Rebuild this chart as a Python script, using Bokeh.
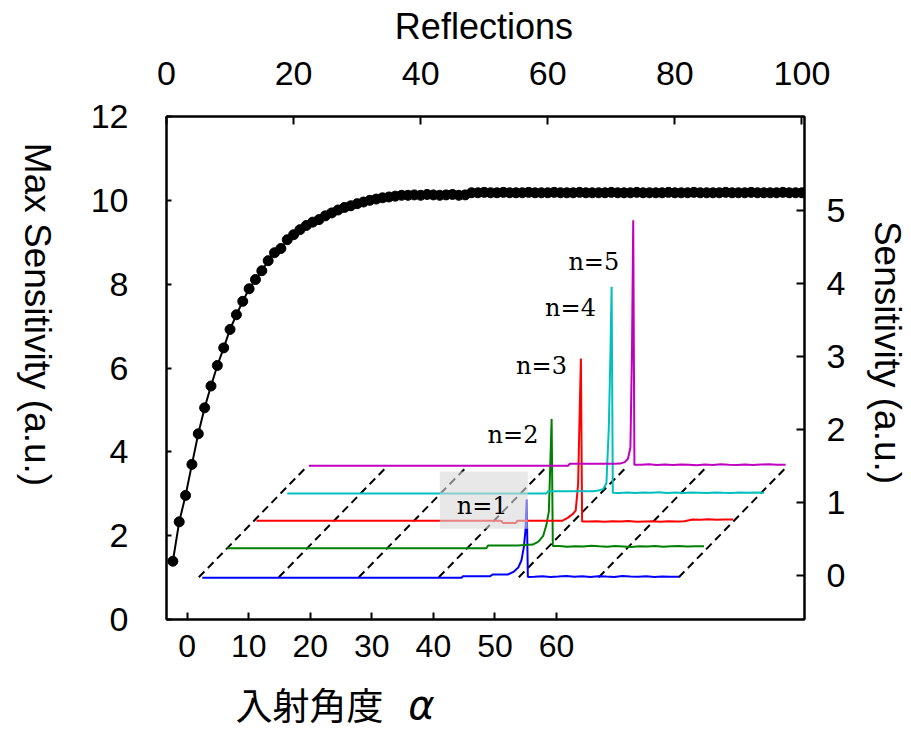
import math
from bokeh.plotting import figure
from bokeh.models import Range1d, LinearAxis, Label, BoxAnnotation, FixedTicker
from bokeh.layouts import row, column
from bokeh.core.properties import value
from bokeh.embed import file_html
from bokeh.resources import INLINE

# ---------------- data ----------------
# Max sensitivity vs number of reflections (black dots, left/top axes)
REFL = list(range(1, 101))
MAX_SENS = [1.39, 2.33, 2.96, 3.70, 4.43, 5.05, 5.57, 6.06, 6.48, 6.92,
            7.27, 7.59, 7.89, 8.11, 8.32, 8.56, 8.75, 8.85, 9.06, 9.18,
            9.30, 9.40, 9.48, 9.54, 9.63, 9.70, 9.77, 9.83, 9.87, 9.92,
            9.96, 10.00, 10.03, 10.06, 10.08, 10.10, 10.12, 10.12, 10.13, 10.12,
            10.14, 10.13, 10.12, 10.13, 10.14, 10.12, 10.13, 10.18, 10.18, 10.19,
            10.18, 10.18, 10.19, 10.18, 10.18, 10.18, 10.19, 10.18, 10.18, 10.18,
            10.19, 10.18, 10.18, 10.18, 10.19, 10.18, 10.18, 10.18, 10.18, 10.19,
            10.18, 10.18, 10.18, 10.19, 10.18, 10.18, 10.18, 10.18, 10.19, 10.18,
            10.18, 10.18, 10.19, 10.18, 10.18, 10.18, 10.18, 10.19, 10.18, 10.18,
            10.18, 10.19, 10.18, 10.18, 10.18, 10.18, 10.19, 10.18, 10.18, 10.18]

# Sensitivity spectra vs incidence angle (relative to each curve's start, deg)
ANGLE = [0.0, 30.6, 30.8, 32.4, 32.6, 36.0, 36.3, 38.2, 38.9, 39.5, 39.9, 40.2,
         40.4, 40.55, 40.7, 41.5, 42.5, 43.5, 44.5, 45.5, 46.5, 47.5, 48.5, 49.5,
         50.5, 51.5, 52.5, 53.5, 54.5, 55.5, 56.5, 57.5, 58.5, 59.6]
SENS_N1 = [0, 0, 0, 0, 0.022, 0.022, 0.045, 0.045, 0.08, 0.14, 0.24, 0.42,
           0.65, 1.07, 0.01, 0.015, 0.022, 0.012, 0.018, 0.025, 0.014, 0.02, 0.012, 0.022,
           0.016, 0.012, 0.024, 0.018, 0.014, 0.02, 0.012, 0.018, 0.015, 0.015]
SENS_N2 = [0, 0, 0, 0, 0.037, 0.037, 0.037, 0.05, 0.09, 0.17, 0.32, 0.5,
           1.2, 1.77, 0.03, 0.03, 0.02, 0.028, 0.022, 0.032, 0.025, 0.02, 0.03, 0.024,
           0.018, 0.028, 0.022, 0.03, 0.02, 0.026, 0.03, 0.022, 0.025, 0.025]
SENS_N3 = [0, 0, -0.03, -0.03, 0, 0, 0, 0, 0.04, 0.09, 0.14, 0.5,
           1.5, 2.22, -0.01, -0.01, -0.005, -0.012, -0.006, -0.01, -0.004, -0.012, -0.008, -0.005,
           -0.012, -0.007, -0.01, -0.006, 0.018, 0.014, 0.02, 0.016, 0.018, 0.018]
SENS_N4 = [0, 0, 0, 0, 0.03, 0.03, 0.03, 0.03, 0.04, 0.06, 0.14, 0.9,
           1.9, 2.83, 0.01, 0.008, 0.014, 0.006, 0.012, 0.01, 0.016, 0.006, 0.012, 0.008,
           0.014, 0.01, 0.006, 0.015, 0.01, 0.008, 0.014, 0.01, 0.012, 0.01]
SENS_N5 = [0, 0, 0, 0, 0.027, 0.027, 0.027, 0.027, 0.03, 0.05, 0.1, 0.25,
           1.6, 3.36, 0.014, 0.014, 0.02, 0.01, 0.016, 0.012, 0.018, 0.014, 0.008, 0.016,
           0.012, 0.02, 0.014, 0.01, 0.018, 0.012, 0.016, 0.02, 0.014, 0.014]
SERIES_NAMES = ["n=1", "n=2", "n=3", "n=4", "n=5"]
GRID_ANGLES = [0, 10, 20, 30, 40, 50, 60]

# tick labels / titles
TOP_TICKS = [0, 20, 40, 60, 80, 100]
LEFT_TICKS = [0, 2, 4, 6, 8, 10, 12]
RIGHT_TICKS = [0, 1, 2, 3, 4, 5]
BOTTOM_TICKS = [0, 10, 20, 30, 40, 50, 60]
TITLE_TOP = "Reflections"
TITLE_LEFT = "Max Sensitivity (a.u.)"
TITLE_RIGHT = "Sensitivity (a.u.)"
TITLE_BOTTOM = "入射角度"
TITLE_BOTTOM_SYM = "α"

# ---------------- layout / style ----------------
COLORS = ["#0000ff", "#008000", "#ff0000", "#00bfbf", "#bf00bf"]
WF_SHIFT_X = [0.43, 3.55, 7.21, 11.05, 13.75]      # deg (pseudo 3-D offsets)
WF_SHIFT_Y = [-0.027, 0.378, 0.753, 1.127, 1.506]  # sensitivity units
GRID_DX, GRID_Y0, GRID_Y1 = 13.6, -0.02, 1.506

FL, FT, FW, FH = 166, 116, 638, 503      # main frame in page px
LEFT_W, RIGHT_W = 74, 46
MAIN_W = 788
TOP_H = 48
MAIN_BOTTOM = 671
TOTAL_H = 729
MAIN_H = MAIN_BOTTOM - TOP_H
BOT_H = TOTAL_H - MAIN_BOTTOM
BORDER_L = FL - LEFT_W
BORDER_R = MAIN_W - BORDER_L - FW


def dx(px):  # page px -> Reflections data
    return (px - FL) / (FW / 100.4)


def dy(py):  # page px -> Max Sensitivity data
    return (FT + FH - py) / (FH / 12.0)


p = figure(frame_width=FW, frame_height=FH,
           x_range=Range1d(0, 100.4), y_range=Range1d(0, 12),
           x_axis_location=None, y_axis_location=None,
           min_border_left=BORDER_L, min_border_top=FT - TOP_H,
           min_border_right=BORDER_R,
           min_border_bottom=MAIN_BOTTOM - FT - FH,
           output_backend="svg", toolbar_location=None)
p.xgrid.grid_line_color = None
p.ygrid.grid_line_color = None
p.outline_line_color = "black"
p.outline_line_width = 2

p.extra_x_ranges = {"ang": Range1d(-3.36, 100.29), "wf": Range1d(-4.04, 75.71)}
p.extra_y_ranges = {"sens": Range1d(-0.598, 6.287)}


def style_axis(ax, ticks, tick_in, standoff, size="34px"):
    ax.ticker = FixedTicker(ticks=ticks, minor_ticks=[])
    ax.major_tick_in = tick_in
    ax.major_tick_out = 0
    ax.minor_tick_in = 0
    ax.minor_tick_out = 0
    ax.major_tick_line_width = 2
    ax.axis_line_width = 2
    ax.major_label_text_font = "Liberation Sans"
    ax.major_label_text_font_size = size
    ax.major_label_text_color = "black"
    ax.major_label_standoff = standoff


top_ax = LinearAxis()
style_axis(top_ax, TOP_TICKS, 8, 32)
p.add_layout(top_ax, "above")

left_ax = LinearAxis()
style_axis(left_ax, LEFT_TICKS, 5, 38)
p.add_layout(left_ax, "left")

right_ax = LinearAxis(y_range_name="sens")
style_axis(right_ax, RIGHT_TICKS, 8, 22)
p.add_layout(right_ax, "right")

bot_ax = LinearAxis(x_range_name="ang")
style_axis(bot_ax, BOTTOM_TICKS, 7, 15, size="32px")
p.add_layout(bot_ax, "below")

# dashed pseudo-3D grid
p.segment(x0=GRID_ANGLES, y0=[GRID_Y0] * len(GRID_ANGLES),
          x1=[a + GRID_DX for a in GRID_ANGLES], y1=[GRID_Y1] * len(GRID_ANGLES),
          x_range_name="wf", y_range_name="sens",
          line_color="black", line_width=2, line_dash="8 5")

# waterfall curves
for k, sens in enumerate([SENS_N1, SENS_N2, SENS_N3, SENS_N4, SENS_N5]):
    xs = [a + WF_SHIFT_X[k] for a in ANGLE]
    ys = [v + WF_SHIFT_Y[k] for v in sens]
    p.line(xs, ys, x_range_name="wf", y_range_name="sens",
           line_color=COLORS[k], line_width=2)

# max sensitivity vs reflections
p.line(REFL, MAX_SENS, line_color="black", line_width=2)
p.scatter(REFL, MAX_SENS, size=10, fill_color="black", line_color="black")

# gray box behind n=1
p.add_layout(BoxAnnotation(left=dx(439.3), right=dx(527.3), bottom=dy(528.3), top=dy(471),
                           fill_color="#d9d9d9", fill_alpha=0.6, line_color=None))

LABEL_POS = [(481.7, 505), (512.5, 434), (541, 365), (570, 307.5), (593.3, 261)]
for name, (lx, ly) in zip(SERIES_NAMES, LABEL_POS):
    p.add_layout(Label(x=dx(lx), y=dy(ly), text=name, text_font="DejaVu Serif",
                       text_font_size="24px", text_align="center", text_baseline="middle",
                       text_color="black"))


def strip(w, h, x0, x1, y0, y1, aligned):
    """Text-only panel; ranges are given in page pixels."""
    kw = dict(min_border_top=0, min_border_bottom=0)
    if aligned:
        kw.update(frame_width=FW, min_border_left=BORDER_L, min_border_right=BORDER_R,
                  frame_height=h)
    else:
        kw.update(width=w, height=h, min_border_left=0, min_border_right=0)
    s = figure(x_range=Range1d(x0, x1), y_range=Range1d(y1, y0),
               x_axis_location=None, y_axis_location=None,
               output_backend="svg", toolbar_location=None, **kw)
    s.xgrid.grid_line_color = None
    s.ygrid.grid_line_color = None
    s.outline_line_color = None
    return s


def put(s, x, y, txt, font, size, angle=0.0, style="normal"):
    s.text(x=[x], y=[y], text=[txt], angle=angle, text_align="center",
           text_baseline="middle", text_font=value(font), text_font_size=value(size),
           text_font_style=style, text_color="black")


top_s = strip(MAIN_W, TOP_H, FL, FL + FW, 0, TOP_H, True)
put(top_s, 483.4, 26, TITLE_TOP, "Liberation Sans", "36px")

left_s = strip(LEFT_W, TOTAL_H, 0, LEFT_W, 0, TOTAL_H, False)
put(left_s, 37, 314, TITLE_LEFT, "Liberation Sans", "37px", angle=-math.pi / 2)

right_s = strip(RIGHT_W, TOTAL_H, LEFT_W + MAIN_W, LEFT_W + MAIN_W + RIGHT_W, 0, TOTAL_H, False)
put(right_s, 887, 352, TITLE_RIGHT, "Liberation Sans", "37px", angle=-math.pi / 2)

bot_s = strip(MAIN_W, BOT_H, FL, FL + FW, MAIN_BOTTOM, TOTAL_H, True)
put(bot_s, 309, 703, TITLE_BOTTOM, "Noto Sans CJK JP", "37px")
put(bot_s, 421, 704, TITLE_BOTTOM_SYM, "DejaVu Sans", "40px", style="italic")

layout = row(left_s, column(top_s, p, bot_s), right_s)
open("out.html", "w").write(file_html(layout, INLINE))
